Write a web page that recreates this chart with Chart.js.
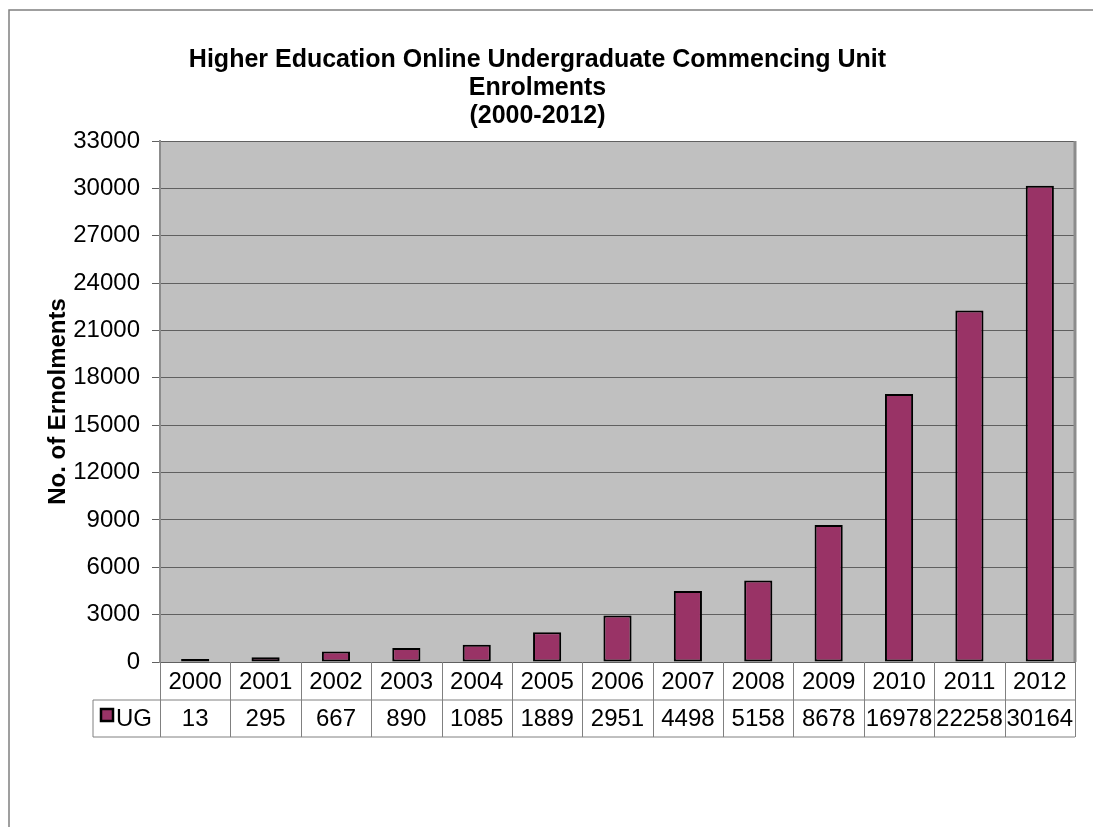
<!DOCTYPE html>
<html>
<head>
<meta charset="utf-8">
<script src="https://cdn.jsdelivr.net/npm/chart.js@4"></script>
<style>
    body { margin: 0; background: #fff; }
    #wrap { width: 1093px; height: 827px; }
</style>
</head>
<body>
<div id="wrap"><canvas id="chart" width="1093" height="827"></canvas></div>
<script>
// data
const years = ['2000', '2001', '2002', '2003', '2004', '2005', '2006', '2007', '2008', '2009', '2010', '2011', '2012'];
const ugValues = [13, 295, 667, 890, 1085, 1889, 2951, 4498, 5158, 8678, 16978, 22258, 30164];
const seriesName = 'UG';
const titleLines = ['Higher Education Online Undergraduate Commencing Unit', 'Enrolments', '(2000-2012)'];
const yTitle = 'No. of Ernolments';
const yMax = 33000;
const yStep = 3000;

const barColour = '#993366';
const FONT = "'Liberation Sans', Arial, sans-serif";

// background, plot area fill, borders and the data table under the axis
const tablePlugin = {
    id: 'tablePlugin',
    beforeDraw(chart){
        const ctx = chart.ctx;
        const a = chart.chartArea;
        ctx.save();
        ctx.fillStyle = '#ffffff';
        ctx.fillRect(0, 0, chart.width, chart.height);
        ctx.fillStyle = '#c0c0c0';
        ctx.fillRect(a.left, a.top, a.right - a.left, a.bottom - a.top);
        ctx.restore();
    },
    afterDraw(chart){
        const ctx = chart.ctx;
        const a = chart.chartArea;
        const x = chart.scales.x;
        const step = (a.right - a.left) / years.length;
        const row1 = a.bottom, row2 = a.bottom + 38, row3 = a.bottom + 75;
        const legLeft = 93;

        ctx.save();
        // outer frame (top and left visible)
        ctx.strokeStyle = '#808080';
        ctx.lineWidth = 1.5;
        ctx.beginPath();
        ctx.moveTo(9, chart.height);
        ctx.lineTo(9, 10);
        ctx.lineTo(chart.width, 10);
        ctx.stroke();

        // right border of plot
        ctx.strokeStyle = '#8c8c8c';
        ctx.lineWidth = 3;
        ctx.beginPath();
        ctx.moveTo(a.right, a.top);
        ctx.lineTo(a.right, a.bottom);
        ctx.stroke();

        // table grid
        ctx.strokeStyle = '#808080';
        ctx.lineWidth = 1;
        ctx.beginPath();
        ctx.moveTo(legLeft, row2); ctx.lineTo(a.right, row2);
        ctx.moveTo(legLeft, row3); ctx.lineTo(a.right, row3);
        ctx.moveTo(legLeft, row2); ctx.lineTo(legLeft, row3);
        for(let i=0; i<=years.length; i++){
            const px = Math.round(x.getPixelForValue(i) - step / 2) + 0.5;
            ctx.moveTo(px, row1); ctx.lineTo(px, row3);
        }
        ctx.stroke();

        // cell texts
        ctx.fillStyle = '#000';
        ctx.font = '24px ' + FONT;
        ctx.textAlign = 'center';
        ctx.textBaseline = 'middle';
        for(let i=0; i<years.length; i++){
            const cx = x.getPixelForValue(i);
            ctx.fillText(years[i], cx, (row1 + row2) / 2 + 1);
            ctx.fillText(String(ugValues[i]), cx, (row2 + row3) / 2 + 1);
        }

        // legend key
        ctx.fillStyle = barColour;
        ctx.fillRect(101, 709, 12, 12);
        ctx.strokeStyle = '#000';
        ctx.lineWidth = 2.5;
        ctx.strokeRect(101, 709, 12, 12);
        ctx.fillStyle = '#000';
        ctx.textAlign = 'left';
        ctx.fillText(seriesName, 116, (row2 + row3) / 2 + 1);
        ctx.restore();
    }
};

const chart = new Chart(document.getElementById('chart'), {
    type: 'bar',
    data: {
        labels: years,
        datasets: [{
            label: seriesName,
            data: ugValues,
            backgroundColor: barColour,
            borderColor: '#000',
            borderWidth: 2,
            borderSkipped: false,
            minBarLength: 3,
            barPercentage: 0.4,
            categoryPercentage: 1
        }]
    },
    options: {
        responsive: false,
        animation: false,
        devicePixelRatio: 1,
        layout: { padding: { left: 0, right: 18, top: 0, bottom: 165 } },
        plugins: {
            legend: { display: false },
            tooltip: { enabled: false },
            title: {
                display: true,
                text: titleLines,
                color: '#000',
                font: { family: FONT, size: 25, weight: 'bold', lineHeight: 1.12 },
                padding: { top: 46, bottom: 11 }
            }
        },
        scales: {
            x: { display: false },
            y: {
                min: 0,
                max: yMax,
                afterFit(scale){ scale.width = 160; },
                ticks: {
                    stepSize: yStep,
                    color: '#000',
                    padding: 12,
                    font: { family: FONT, size: 24 },
                    callback: (v) => String(v)
                },
                grid: { color: '#606060', lineWidth: 1, tickLength: 8, drawTicks: true },
                border: { display: true, color: '#8c8c8c', width: 2 },
                title: {
                    display: true,
                    text: yTitle,
                    color: '#000',
                    font: { family: FONT, size: 24, weight: 'bold' },
                    padding: { top: 44, bottom: 0 }
                }
            }
        }
    },
    plugins: [tablePlugin]
});
</script>
</body>
</html>
